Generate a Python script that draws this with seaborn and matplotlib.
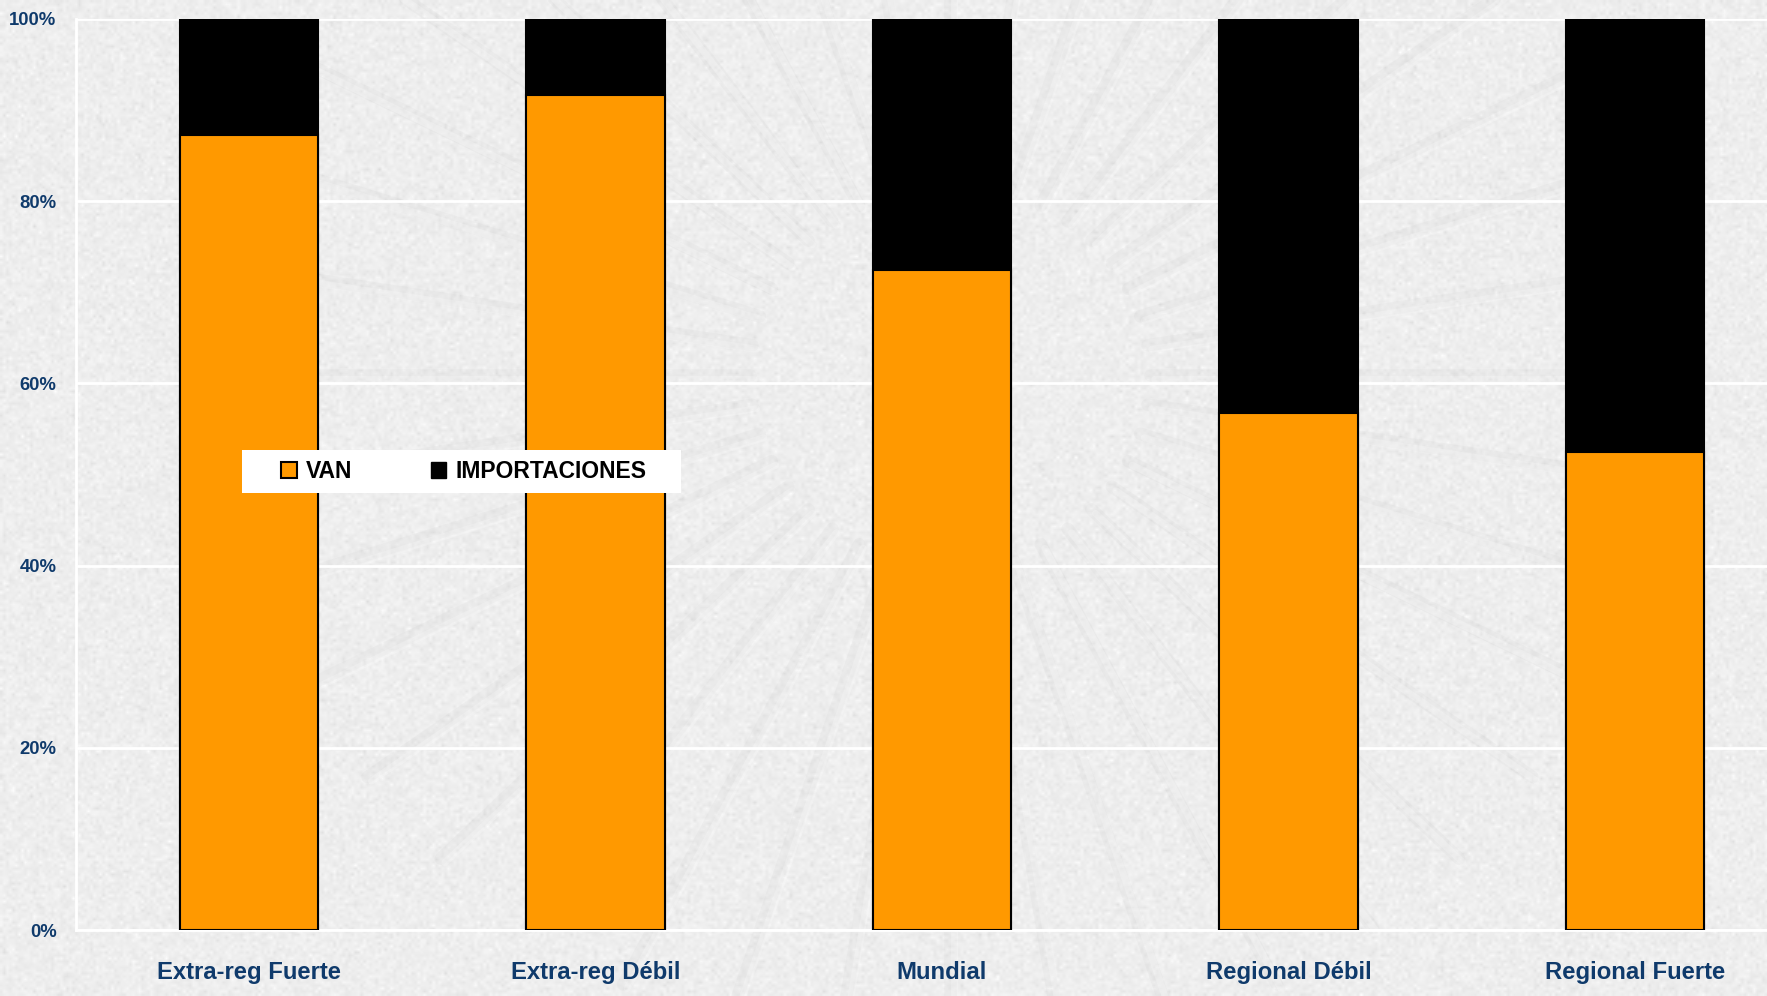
import numpy as np
import pandas as pd
import matplotlib
matplotlib.use("Agg")
import matplotlib.pyplot as plt
from matplotlib.patches import Patch, Rectangle
import seaborn as sns

# Share of each scenario: domestic value added (VAN) vs imports
categories = ["Extra-reg Fuerte", "Extra-reg Débil", "Mundial", "Regional Débil", "Regional Fuerte"]
van = [0.873, 0.917, 0.724, 0.567, 0.525]
importaciones = [1 - v for v in van]
yticks = [0.0, 0.2, 0.4, 0.6, 0.8, 1.0]
ytick_labels = ["0%", "20%", "40%", "60%", "80%", "100%"]

df = pd.DataFrame({"escenario": categories, "VAN": van, "IMPORTACIONES": importaciones})
df["total"] = df["VAN"] + df["IMPORTACIONES"]

sns.set_theme(style="white")
plt.rcParams["font.family"] = ["Liberation Sans", "DejaVu Sans"]

W, H = 1767, 996
fig = plt.figure(figsize=(W / 100, H / 100), dpi=100)
fig.patch.set_facecolor("#ececec")

# Paper-like backdrop with a faint embossed sunburst
bg = fig.add_axes([0, 0, 1, 1], zorder=-2)
rng = np.random.default_rng(7)
tex = 0.93 + 0.016 * rng.standard_normal((H // 3, W // 3))
bg.imshow(tex, cmap="gray", vmin=0, vmax=1, extent=(0, W, H, 0), interpolation="bilinear", aspect="auto")
cx, cy = 950, 375
for ang in np.linspace(0, 2 * np.pi, 40, endpoint=False):
    r0, r1 = 200, 720
    xs = np.array([cx + r0 * np.cos(ang), cx + r1 * np.cos(ang)])
    ys = np.array([cy + r0 * np.sin(ang) * 0.95, cy + r1 * np.sin(ang) * 0.95])
    bg.plot(xs, ys, color="#a9a9a9", lw=9, alpha=0.07, solid_capstyle="round")
    bg.plot(xs + 4, ys + 4, color="white", lw=5, alpha=0.22, solid_capstyle="round")
bg.set_xlim(0, W)
bg.set_ylim(H, 0)
bg.axis("off")

ax = fig.add_axes([76 / W, 66 / H, 1732 / W, 911 / H])
ax.set_facecolor("none")

sns.barplot(data=df, x="escenario", y="total", color="black", width=0.40,
            edgecolor="black", linewidth=1.5, saturation=1, ax=ax, zorder=3)
sns.barplot(data=df, x="escenario", y="VAN", color="#ff9900", width=0.40,
            edgecolor="black", linewidth=1.5, saturation=1, ax=ax, zorder=4)

ax.set_ylim(0, 1)
ax.set_xlim(-0.5, len(categories) - 0.5)
ax.set_xlabel("")
ax.set_ylabel("")
ax.set_yticks(yticks)
ax.set_yticklabels(ytick_labels)
ax.grid(axis="y", color="white", lw=2, zorder=1)
ax.set_axisbelow(True)

navy = "#0f3a6b"
for lab in ax.get_yticklabels():
    lab.set_fontweight("bold")
    lab.set_fontsize(13.3)
    lab.set_color(navy)
for lab in ax.get_xticklabels():
    lab.set_fontweight("bold")
    lab.set_fontsize(17.2)
    lab.set_color(navy)

ax.tick_params(axis="y", length=0, pad=14)
ax.tick_params(axis="x", which="major", length=0, pad=22)
ax.set_xticks(np.arange(-0.5, len(categories) + 0.5, 1), minor=True)
ax.tick_params(axis="x", which="minor", length=9, width=1.5, color="white", direction="out")

for side in ["top", "right"]:
    ax.spines[side].set_visible(False)
for side in ["left", "bottom"]:
    ax.spines[side].set_color("white")
    ax.spines[side].set_linewidth(2)

# White legend panel
fig.patches.append(Rectangle((242 / W, 1 - 493 / H), (681 - 242) / W, 43 / H,
                             transform=fig.transFigure, facecolor="white",
                             edgecolor="none", zorder=9))
handles = [Patch(facecolor="#ff9900", edgecolor="black", linewidth=1.5),
           Patch(facecolor="black", edgecolor="black")]
leg = fig.legend(handles=handles, labels=["VAN", "IMPORTACIONES"], ncol=2,
                 loc="center left", bbox_to_anchor=(281 / W, 1 - 471.5 / H),
                 frameon=False, handlelength=0.68, handleheight=0.68,
                 handletextpad=0.42, columnspacing=3.4, borderpad=0,
                 borderaxespad=0, labelcolor="black",
                 prop={"weight": "bold", "size": 16.5})
leg.set_zorder(10)

fig.savefig("out.png", dpi=100)
